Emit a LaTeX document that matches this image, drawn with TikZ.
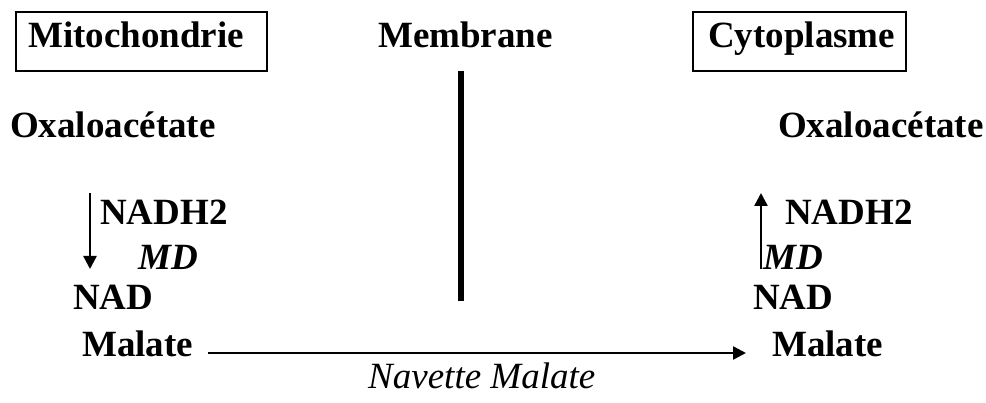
\documentclass[tikz,border=0pt]{standalone}
\usepackage{fontspec}
\setmainfont{Liberation Serif}
\usetikzlibrary{arrows.meta}
\begin{document}
\begin{tikzpicture}[x=1pt,y=-1pt,
  lbl/.style={inner sep=0pt,anchor=base west,font=\fontsize{37}{40}\selectfont\bfseries},
  bilbl/.style={inner sep=0pt,anchor=base west,font=\fontsize{37}{40}\selectfont\bfseries\itshape},
  ilbl/.style={inner sep=0pt,anchor=base west,font=\fontsize{37}{40}\selectfont\itshape},
  arr/.style={line width=2.4pt,-{Triangle[length=13pt,width=13pt]}},
  boxline/.style={line width=2.4pt}]
\useasboundingbox (0,0) rectangle (986,403);
% boxes
\draw[boxline] (16,12) rectangle (267,71);
\draw[boxline] (693,12) rectangle (906,71);
\node[lbl] (mito) at (28,48) {Mitochondrie};
\node[lbl] (memb) at (378,48) {Membrane};
\node[lbl] (cyto) at (708,48) {Cytoplasme};
% membrane line
\coordinate (mt) at (461,71);
\coordinate (mb) at (461,301);
\draw[line width=6pt] (mt) -- (mb);
% left side
\node[lbl] (oxl) at (10,138) {Oxaloacétate};
\node[lbl] (nadhl) at (100,225) {NADH2};
\node[bilbl] (mdl) at (138,270) {MD};
\node[lbl] (nadl) at (73,310) {NAD};
\node[lbl] (mall) at (82,357) {Malate};
\coordinate (al1) at (90,193);
\coordinate (al2) at (90,269);
\draw[arr] (al1) -- (al2);
% right side
\node[lbl] (oxr) at (778,138) {Oxaloacétate};
\node[lbl] (nadhr) at (785,225) {NADH2};
\node[bilbl] (mdr) at (763,270) {MD};
\node[lbl] (nadr) at (753,310) {NAD};
\node[lbl] (malr) at (772,357) {Malate};
\coordinate (ar1) at (761,269);
\coordinate (ar2) at (761,193);
\draw[arr] (ar1) -- (ar2);
% shuttle arrow
\draw[arr] ([xshift=15pt,yshift=4pt]mall.base east) -- ([xshift=-26pt,yshift=4pt]malr.base west);
\node[ilbl] (nav) at (368,389) {Navette Malate};
\end{tikzpicture}
\end{document}
